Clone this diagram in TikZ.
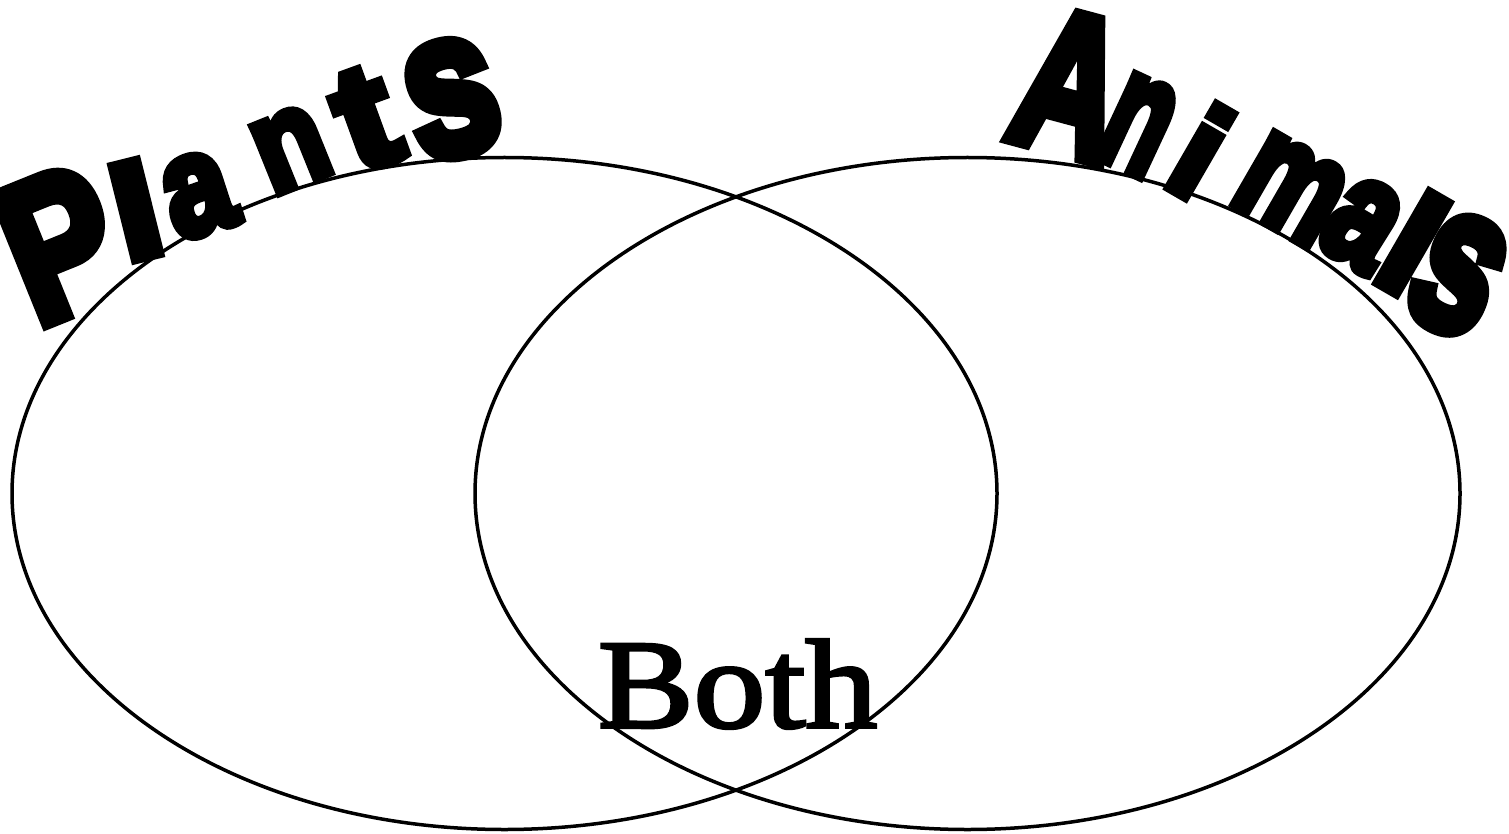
\documentclass[tikz,border=0pt]{standalone}
\usepackage{fontspec}
\usepackage{graphicx}
\newfontfamily\heavyfont[FakeBold=7]{Liberation Sans Bold}
\newfontfamily\bothfont[FakeBold=2.5]{Liberation Serif}
\newcommand\wal[7]{\node[wordart, rotate=#4] (#1) at (#2,#3) {\resizebox{#5pt}{#6pt}{\heavyfont #7}};}
\tikzset{
  wordart/.style={inner sep=0pt, outer sep=0pt, text=black},
  venn/.style={draw=black, line width=3.5pt}
}
\begin{document}
\begin{tikzpicture}[x=1pt, y=-1pt]
\fill[white] (0,0) rectangle (1509,834);
\useasboundingbox (0,0) rectangle (1509,834);
% circles
\draw[venn] (504.5,493.5) ellipse [x radius=492.5pt, y radius=336pt];
\draw[venn] (967.5,493.5) ellipse [x radius=492.5pt, y radius=336pt];
% Plants
\wal{pP}{60}{244}{22}{106}{136}{P}
\wal{pl}{136}{210}{14}{46}{96}{l}
\wal{pa}{198}{195}{18}{66}{76}{a}
\wal{pn}{291}{149}{22}{70}{72}{n}
\wal{pt}{366}{119}{20}{54}{96}{t}
\wal{ps}{452}{99}{14}{90}{110}{s}
% Animals
\wal{aA}{1071}{84}{-15}{102}{136}{A}
\wal{an}{1138}{125}{-25}{62}{90}{n}
\wal{ai}{1201}{151}{-30}{38}{96}{i}
\wal{am}{1291}{189}{-30}{100}{82}{m}
\wal{aa}{1362}{224}{-32}{64}{82}{a}
\wal{al}{1413}{243}{-30}{42}{104}{l}
\wal{as}{1458}{275}{-25}{80}{112}{s}
% Both
\node[wordart] (both) at (737.5,684) {\resizebox{279pt}{88pt}{\bothfont Both}};
\end{tikzpicture}
\end{document}
